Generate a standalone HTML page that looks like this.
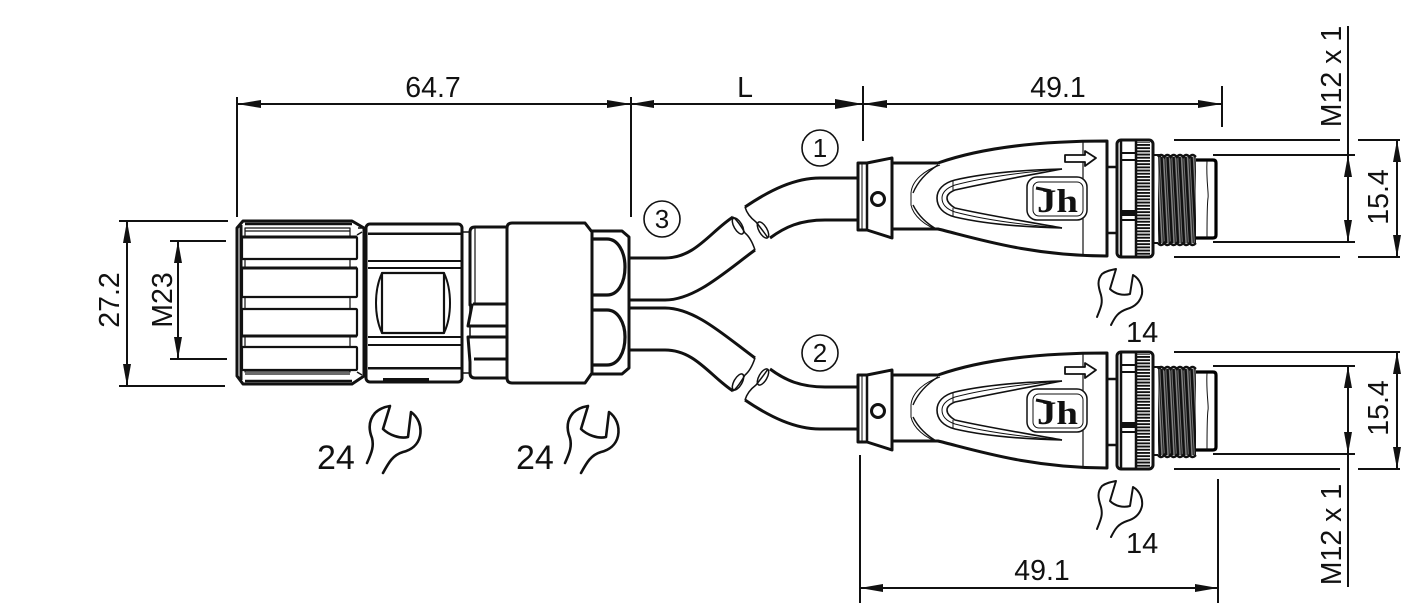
<!DOCTYPE html>
<html>
<head>
<meta charset="utf-8">
<style>
html,body{margin:0;padding:0;background:#fff}
svg{display:block}
text{font-family:"Liberation Sans",sans-serif;font-size:28.5px;fill:#111}
</style>
</head>
<body>
<svg width="1418" height="604" viewBox="0 0 1418 604" xmlns="http://www.w3.org/2000/svg">
<defs>
<pattern id="kn" width="4" height="3.2" patternUnits="userSpaceOnUse"><rect width="4" height="3.2" fill="#fff"/><rect width="4" height="1.9" fill="#111"/></pattern>
<pattern id="th" width="6" height="10" patternUnits="userSpaceOnUse" patternTransform="skewX(3)"><rect width="6" height="10" fill="#888"/><rect width="2.6" height="10" fill="#111"/><rect x="4" width="1.2" height="10" fill="#222"/></pattern>
<g id="wr14" fill="none" stroke="#111" stroke-width="2" stroke-linecap="round" stroke-linejoin="round"><path d="M1097,317C1101,307 1103,303 1101,295C1098,286 1097,280 1102,274C1106,271 1111,270 1116,269L1110,289C1115,294 1123,296 1130,294L1133,275C1140,279 1143,287 1142,294C1140,303 1134,307 1127,309C1118,312 1115,317 1111,325"/></g>
<g id="wr24" fill="none" stroke="#111" stroke-width="2.6" stroke-linecap="round" stroke-linejoin="round"><path d="M367,463C372,452 374,446 372,438C368,428 369,420 375,413C379,409 384,407 390,406L383,429C389,435 400,439 408,437L411,412C418,417 422,426 420,436C418,445 411,450 403,452C393,455 389,462 383,473"/></g>
<g id="conn">
  <path d="M892,163H938C975,150 1030,141 1107,141V256C1030,256 975,238 938,229H892Z" fill="#fff" stroke="#111" stroke-width="3" stroke-linejoin="round"/>
  <path d="M858,163H867L892,158V238L867,230H858Z" fill="#fff" stroke="#111" stroke-width="3" stroke-linejoin="round"/>
  <path d="M867,163V230" stroke="#111" stroke-width="2.5" fill="none"/>
  <path d="M862,163V230" stroke="#111" stroke-width="1" fill="none"/>
  <circle cx="878" cy="199" r="6.5" fill="#fff" stroke="#111" stroke-width="3"/>
  <path d="M1083,141V256" stroke="#111" stroke-width="1.2" fill="none"/>
  <path d="M940,165C925,170 912,180 911,193V205C913,215 925,227 940,230" fill="none" stroke="#111" stroke-width="1"/>
  <path d="M938,165C927,172 918,181 913,193M913,205C918,215 927,224 938,230" fill="none" stroke="#111" stroke-width="1.4"/>
  <path d="M1062,169C1020,170 985,173 955,180C943,183 937,190 937,198C937,207 943,214 955,217C985,224 1020,227 1062,228" fill="none" stroke="#111" stroke-width="1.6"/>
  <path d="M1062,169C1030,175 990,182 955,190C950,192 947,195 947,198C947,202 950,205 955,208C990,216 1030,222 1062,228" fill="none" stroke="#111" stroke-width="1.6"/>
  <path d="M1062,169C1025,172 985,177 955,185C946,188 942,193 942,198C942,204 946,209 955,212C985,220 1025,225 1062,228" fill="none" stroke="#111" stroke-width="1"/>
  <path d="M953,180V190M953,208V217" stroke="#111" stroke-width="1" fill="none"/>
  <path d="M1065,155H1085V151L1096,158L1085,166V162H1065Z" fill="#fff" stroke="#111" stroke-width="1.8" stroke-linejoin="round"/>
  <rect x="1027" y="177" width="60" height="43" rx="10" fill="#fff" stroke="#111" stroke-width="1.5"/>
  <rect x="1033" y="182" width="50" height="34" rx="6" fill="none" stroke="#111" stroke-width="1"/>
  <path d="M1036,188L1051,191" stroke="#111" stroke-width="3" fill="none"/>
  <text x="1037" y="212" textLength="41" lengthAdjust="spacingAndGlyphs" style="font-family:'Liberation Serif',serif;font-weight:bold;font-size:33px">Jh</text>
  <path d="M1107,167H1117M1107,233H1117" stroke="#111" stroke-width="2.5" fill="none"/>
  <path d="M1153,155H1160V243H1153Z" fill="#fff" stroke="#111" stroke-width="2"/>
  <rect x="1158" y="157" width="38" height="86" fill="url(#th)"/>
  <path d="M1158,157q3,-4 6.3,0q3,-4 6.3,0q3,-4 6.3,0q3,-4 6.3,0q3,-4 6.3,0q3,-4 6.3,0M1158,243q3,4 6.3,0q3,4 6.3,0q3,4 6.3,0q3,4 6.3,0q3,4 6.3,0q3,4 6.3,0" fill="none" stroke="#111" stroke-width="2.5"/>
  <path d="M1196,160H1213Q1216,160 1216,163V235Q1216,238 1213,238H1196" fill="#fff" stroke="#000" stroke-width="3.2"/>
  <path d="M1207,161C1206,180 1209,195 1208,198C1207,205 1207,225 1207,238" fill="none" stroke="#111" stroke-width="1"/>
  <rect x="1117" y="140" width="36" height="117" rx="4" fill="#fff" stroke="#111" stroke-width="3"/>
  <rect x="1137" y="142" width="13" height="113" fill="url(#kn)"/>
  <path d="M1121,141V256M1136,141V256" stroke="#111" stroke-width="2.5" fill="none"/>
  <path d="M1121,153H1136M1121,160H1136M1121,211H1136M1121,220H1136" stroke="#111" stroke-width="2" fill="none"/>
  <rect x="1121" y="211" width="15" height="5" fill="#111"/>
</g>
</defs>

<!-- cables -->
<g fill="none" stroke="#111" stroke-width="3" stroke-linejoin="round">
  <path d="M858,178H820C795,178 770,190 745,207"/>
  <path d="M858,220H825C800,220 785,227 770,238"/>
  <path d="M630,258H665C695,258 710,232 733,217"/>
  <path d="M630,300H665C695,300 725,272 755,250"/>
  <path d="M630,308H665C695,308 725,336 755,358"/>
  <path d="M630,350H665C695,350 710,376 733,391"/>
  <path d="M858,387H825C800,387 785,380 770,369"/>
  <path d="M858,429H820C795,429 770,417 745,400"/>
</g>
<g fill="none" stroke="#111" stroke-width="1.5">
  <path d="M745,207C747,214 752,219 756,222C760,227 764,232 768,238"/>
  <ellipse cx="763" cy="230" rx="4" ry="9" transform="rotate(-30 763 230)"/>
  <path d="M733,217C737,220 741,226 745,233C750,237 753,244 755,250"/>
  <ellipse cx="738" cy="226" rx="4" ry="9" transform="rotate(-30 738 226)"/>
  <path d="M733,391C737,388 741,382 745,375C750,371 753,364 755,358"/>
  <ellipse cx="738" cy="382" rx="4" ry="9" transform="rotate(30 738 382)"/>
  <path d="M745,400C747,393 752,388 756,385C760,380 764,375 768,369"/>
  <ellipse cx="763" cy="377" rx="4" ry="9" transform="rotate(30 763 377)"/>
</g>

<!-- big left connector -->
<g fill="#fff" stroke="#111" stroke-linejoin="round">
  <path d="M590,231H622L629,237V368L622,374H590Z" stroke-width="3"/>
  <path d="M592,239H607C618,239 625,252 625,267C625,283 618,295 607,295H592" stroke-width="3.2"/>
  <path d="M592,310H607C618,310 625,323 625,337C625,353 618,365 607,365H592" stroke-width="3.2"/>
  <path d="M592,238C582,250 582,284 592,296C582,306 582,355 592,366" fill="none" stroke-width="2"/>
  <path d="M462,232H470V373H462Z" stroke-width="1.5"/>
  <path d="M470,232Q470,227 475,227H507V378H475Q470,378 470,373V362L468,337H507V326H468L472,305H470Z" stroke-width="3"/>
  <path d="M475,227V304" stroke-width="1.2" fill="none"/>
  <path d="M473,304H507M468,326H507M468,337H507M474,359H507" stroke-width="3" fill="none"/>
  <path d="M512,223H585L592,232V373L585,383H512Q507,383 507,378V228Q507,223 512,223Z" stroke-width="3"/>
  <rect x="366" y="224" width="96" height="158" rx="4" stroke-width="3"/>
  <path d="M368,234H461M368,261H461M368,268H461M368,337H461M368,345H461M368,368H461" stroke-width="2" fill="none"/>
  <path d="M368,233H461M368,369H461" stroke-width="1" fill="none"/>
  <rect x="382" y="273" width="62" height="60" stroke-width="2.2"/>
  <path d="M382,273C374,290 374,316 382,333M444,273C452,290 452,316 444,333" stroke-width="2" fill="none"/>
  <rect x="383" y="378" width="46" height="5" fill="#111" stroke="none"/>
  <path d="M237,228L243,221H352L364,228V376L352,384H243L237,376Z" stroke-width="3"/>
  <path d="M241,225V380" stroke-width="3" fill="none"/>
  <path d="M245,228H350V372H245Z" stroke-width="1.2"/>
  <path d="M245,224H352M245,381H352" stroke-width="2.4" fill="none"/>
  <path d="M245,231H350M245,374H350" stroke-width="1.2" fill="none"/>
  <rect x="242" y="237" width="115" height="22" rx="1" stroke-width="2.2"/>
  <rect x="242" y="268" width="115" height="29" rx="1" stroke-width="2.2"/>
  <rect x="242" y="309" width="115" height="27" rx="1" stroke-width="2.2"/>
  <rect x="242" y="347" width="115" height="23" rx="1" stroke-width="2.2"/>
  <path d="M242,237H357M242,268H357M242,336H357" stroke-width="3" fill="none"/>
  <path d="M358,228L364,228M357,235L362,232M357,372L362,375" stroke-width="1.5" fill="none"/>
</g>

<use href="#conn"/>
<use href="#conn" y="212"/>

<!-- dimension lines -->
<g fill="none" stroke="#111" stroke-width="2">
  <path d="M237,97V217M631,97V217M863,86V141M1222,86V127"/>
  <path d="M237,104H1222"/>
  <path d="M119,221H228M119,386H225M170,241H226M170,359H227M127,221V386M178,241V359"/>
  <path d="M1174,140H1340M1358,140H1400M1213,155H1355M1213,242H1355M1174,257H1340M1358,257H1400M1348,26V242M1397,140V257"/>
  <path d="M1174,352H1400M1213,366H1355M1213,454H1355M1174,469H1340M1358,469H1400M1348,366V587M1397,352V469"/>
  <path d="M860,455V603M1218,479V603M860,588H1218"/>
</g>
<g fill="#111" stroke="none">
  <path d="M237,104L261,100V108Z"/>
  <path d="M631,104L607,100V108Z"/>
  <path d="M631,104L654,100V108Z"/>
  <path d="M863,104L835,99V109Z"/>
  <path d="M863,104L887,100V108Z"/>
  <path d="M1222,104L1198,100V108Z"/>
  <path d="M127,221L123,243H131Z"/>
  <path d="M127,386L123,364H131Z"/>
  <path d="M178,241L174,263H182Z"/>
  <path d="M178,359L174,337H182Z"/>
  <path d="M1348,155L1344,177H1352Z"/>
  <path d="M1348,242L1344,220H1352Z"/>
  <path d="M1397,140L1393,162H1401Z"/>
  <path d="M1397,257L1393,235H1401Z"/>
  <path d="M1348,366L1344,388H1352Z"/>
  <path d="M1348,454L1344,432H1352Z"/>
  <path d="M1397,352L1393,374H1401Z"/>
  <path d="M1397,469L1393,447H1401Z"/>
  <path d="M860,588L883,584V592Z"/>
  <path d="M1218,588L1195,584V592Z"/>
</g>

<!-- balloons -->
<g fill="none" stroke="#111" stroke-width="1.6">
  <circle cx="820" cy="148" r="18"/>
  <circle cx="662" cy="219" r="18"/>
  <circle cx="820" cy="353" r="18"/>
</g>
<text x="820" y="157" text-anchor="middle" style="font-size:26px">1</text>
<text x="662" y="228" text-anchor="middle" style="font-size:26px">3</text>
<text x="820" y="362" text-anchor="middle" style="font-size:26px">2</text>

<!-- wrenches -->
<use href="#wr14"/>
<use href="#wr14" y="212"/>
<use href="#wr24"/>
<use href="#wr24" x="198"/>

<!-- labels -->
<text x="433" y="97" text-anchor="middle">64.7</text>
<text x="745" y="97" text-anchor="middle">L</text>
<text x="1058" y="97" text-anchor="middle">49.1</text>
<text x="1042" y="580" text-anchor="middle">49.1</text>
<text x="1126" y="342" style="font-size:29px">14</text>
<text x="1126" y="553" style="font-size:29px">14</text>
<text x="317" y="469" style="font-size:34px">24</text>
<text x="516" y="469" style="font-size:34px">24</text>
<text transform="translate(119,300) rotate(-90)" text-anchor="middle">27.2</text>
<text transform="translate(172,300) rotate(-90)" text-anchor="middle">M23</text>
<text transform="translate(1341,76.5) rotate(-90)" text-anchor="middle">M12 x 1</text>
<text transform="translate(1341,534.5) rotate(-90)" text-anchor="middle">M12 x 1</text>
<text transform="translate(1388,197) rotate(-90)" text-anchor="middle">15.4</text>
<text transform="translate(1388,408) rotate(-90)" text-anchor="middle">15.4</text>
</svg>
</body>
</html>
